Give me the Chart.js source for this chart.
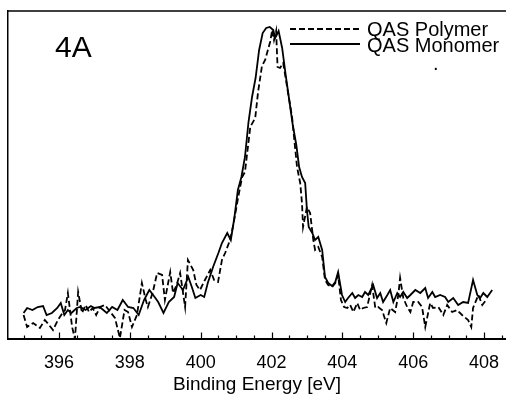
<!DOCTYPE html>
<html>
<head>
<meta charset="utf-8">
<script src="https://cdn.jsdelivr.net/npm/chart.js@4/dist/chart.umd.min.js"></script>
<style>
html,body{margin:0;padding:0;background:#fff;}
#wrap{width:506px;height:401px;position:relative;}
</style>
</head>
<body>
<div id="wrap"><canvas id="c" width="506" height="401"></canvas></div>
<script>
// ---- data (binding energy in eV, intensity in arbitrary units) ----
const monomerX = [395.0,395.1,395.25,395.4,395.55,395.65,395.8,395.95,396.05,396.15,396.25,396.35,396.5,396.6,396.75,396.9,397.0,397.15,397.35,397.5,397.65,397.8,397.95,398.1,398.25,398.4,398.55,398.7,398.8,398.95,399.1,399.25,399.35,399.5,399.65,399.75,399.85,400.0,400.1,400.2,400.35,400.5,400.6,400.75,400.85,400.95,401.05,401.15,401.25,401.35,401.45,401.55,401.65,401.75,401.85,401.95,402.05,402.1,402.2,402.3,402.4,402.5,402.6,402.7,402.78,402.86,402.95,403.0,403.05,403.15,403.23,403.32,403.43,403.51,403.6,403.71,403.8,403.88,403.99,404.08,404.16,404.28,404.36,404.45,404.56,404.64,404.73,404.87,404.98,405.07,405.15,405.27,405.35,405.44,405.55,405.63,405.72,405.83,405.92,406.06,406.2,406.34,406.42,406.54,406.62,406.76,406.9,406.99,407.13,407.27,407.41,407.55,407.69,407.81,407.89,407.98,408.09,408.23];
const monomerY = [26,31,29,32,33,24,26,31,36,24,29,26,31,32,29,33,31,32,26,32,29,39,32,31,24,39,49,42,37,26,37,42,56,49,62,52,41,44,42,56,72,86,96,106,99,121,149,162,182,217,242,261,289,306,311,312,309,301,308,291,264,239,214,194,172,162,156,129,112,106,99,102,89,62,56,53,57,67,44,37,41,46,41,44,42,47,44,54,41,46,37,44,49,37,46,42,47,41,44,49,46,51,41,47,42,44,42,37,41,34,37,36,59,44,41,46,42,49];
const polymerX = [395.0,395.1,395.27,395.46,395.6,395.72,395.83,395.97,396.1,396.17,396.25,396.37,396.45,396.54,396.65,396.75,396.85,396.95,397.05,397.16,397.3,397.45,397.58,397.72,397.85,397.95,398.06,398.2,398.34,398.45,398.51,398.65,398.77,398.91,398.99,399.14,399.22,399.32,399.42,399.56,399.64,399.79,399.88,399.98,400.12,400.27,400.38,400.49,400.6,400.69,400.83,400.92,401.06,401.17,401.25,401.4,401.54,401.62,401.73,401.82,401.96,402.02,402.07,402.13,402.17,402.24,402.33,402.44,402.58,402.72,402.81,402.86,402.89,403.0,403.09,403.18,403.23,403.32,403.43,403.51,403.6,403.71,403.8,403.88,403.96,404.05,404.14,404.22,404.31,404.42,404.5,404.59,404.7,404.84,404.93,405.01,405.12,405.24,405.35,405.49,405.58,405.63,405.72,405.83,405.92,406.0,406.14,406.25,406.34,406.48,406.56,406.71,406.85,406.96,407.1,407.24,407.38,407.55,407.64,407.69,407.84,407.95,408.06];
const polymerY = [24,12,16,11,19,14,9,19,26,29,46,12,0,47,26,34,27,31,24,32,34,27,21,1,29,27,12,24,56,39,32,47,66,64,39,67,46,54,66,32,79,69,54,49,59,69,59,57,79,86,99,114,142,162,167,212,221,247,273,279,297,309,299,308,272,271,276,252,222,172,156,136,112,132,126,99,89,92,82,59,54,52,56,64,39,32,31,34,27,36,29,31,32,54,31,32,29,16,31,27,44,61,41,32,27,37,37,32,12,36,31,32,24,34,27,29,24,19,12,31,44,34,39];
const xTickLabels = [396,398,400,402,404,406,408];
const seriesNames = ['QAS Polymer','QAS Monomer'];
const panelLabel = '4A';
const xTitle = 'Binding Energy [eV]';

const FONT = '"Liberation Sans", Arial, Helvetica, sans-serif';

const framePlugin = {
  id: 'frame',
  afterDraw(chart) {
    const {ctx, chartArea: a, scales: {x}} = chart;
    ctx.save();
    ctx.strokeStyle = '#000';
    ctx.lineWidth = 1.5;
    ctx.beginPath(); ctx.moveTo(a.left, a.top); ctx.lineTo(a.right, a.top); ctx.stroke();
    ctx.lineWidth = 1.2;
    for (let v = 395; v <= 408.51; v += 0.5) {
      const px = Math.round(x.getPixelForValue(v)) + 0.5;
      const major = xTickLabels.includes(v);
      ctx.beginPath();
      ctx.moveTo(px, a.bottom);
      ctx.lineTo(px, a.bottom - (major ? 6.5 : 3.5));
      ctx.stroke();
    }
    ctx.fillStyle = '#000';
    ctx.textBaseline = 'alphabetic';
    ctx.textAlign = 'left';
    ctx.font = '30px ' + FONT;
    ctx.fillText(panelLabel, 55, 57);
    const ds = chart.data.datasets;
    const rows = [{y: 29, ty: 36}, {y: 44, ty: 52}];
    ds.forEach((d, i) => {
      ctx.lineWidth = d.borderWidth;
      ctx.setLineDash(d.borderDash || []);
      ctx.beginPath();
      ctx.moveTo(290, rows[i].y); ctx.lineTo(360, rows[i].y);
      ctx.stroke();
      ctx.setLineDash([]);
      ctx.font = '20px ' + FONT;
      ctx.fillText(d.label, 367, rows[i].ty);
    });
    ctx.fillText('.', 433, 70);
    ctx.restore();
  }
};

new Chart(document.getElementById('c'), {
  type: 'line',
  data: {
    datasets: [
      {
        label: seriesNames[0],
        data: polymerX.map((x, i) => ({x, y: polymerY[i]})),
        borderColor: '#000', borderWidth: 1.8, borderDash: [6, 3],
        pointRadius: 0, tension: 0, fill: false
      },
      {
        label: seriesNames[1],
        data: monomerX.map((x, i) => ({x, y: monomerY[i]})),
        borderColor: '#000', borderWidth: 1.8,
        pointRadius: 0, tension: 0, fill: false
      }
    ]
  },
  options: {
    responsive: false,
    animation: false,
    devicePixelRatio: 1,
    layout: {padding: {top: 11, left: 0, right: 0, bottom: 0}},
    plugins: {legend: {display: false}, tooltip: {enabled: false}},
    scales: {
      x: {
        type: 'linear', min: 394.56, max: 408.62,
        afterBuildTicks(s) { s.ticks = xTickLabels.map(v => ({value: v})); },
        afterFit(s) { s.height = 62; s.paddingLeft = 0; s.paddingRight = 0; },
        grid: {display: false},
        border: {display: true, color: '#000', width: 2},
        ticks: {color: '#000', font: {family: FONT, size: 18}, padding: 5, maxRotation: 0, autoSkip: false,
                callback: v => String(v)},
        title: {display: true, text: xTitle, color: '#000', font: {family: FONT, size: 19}, padding: {top: 0, bottom: 5}}
      },
      y: {
        type: 'linear', min: 0, max: 328,
        afterFit(s) { s.width = 8; s.paddingTop = 0; s.paddingBottom = 0; },
        grid: {display: false},
        border: {display: true, color: '#000', width: 1.5},
        ticks: {display: false}
      }
    }
  },
  plugins: [framePlugin]
});
</script>
</body>
</html>
